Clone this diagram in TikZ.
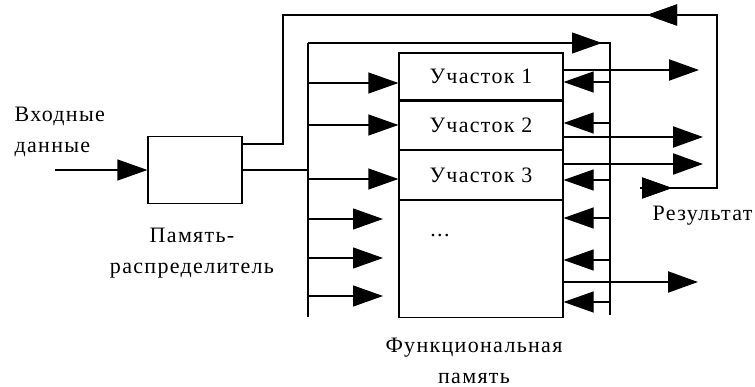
\documentclass[tikz,border=0pt]{standalone}
\usepackage{fontspec}
\setmainfont{Liberation Serif}[LetterSpace=6]
\usetikzlibrary{arrows.meta,decorations.markings}

\begin{document}
\begin{tikzpicture}[x = 1pt, y = -1pt, line width = 1.2pt,
  >={Triangle[length=30pt, width=21pt]},
  box/.style = {draw, rectangle, inner sep = 0pt},
  lbl/.style = {font = \fontsize{22}{31}\selectfont, inner sep = 0pt},
  thickout/.style = {line width = 2.2pt, ->},
  midarr/.style = {postaction = {decorate},
    decoration = {markings, mark = at position #1 with {\arrow{>}}}}]
\useasboundingbox (0,0) rectangle (755,387);
% distributor and memory
\node[box, minimum width = 94pt, minimum height = 67pt] (dist) at (195,170) {};
\node[box, lbl, minimum width = 164pt, minimum height = 47pt] (sec1) at (481,76.5) {Участок 1};
\node[box, lbl, minimum width = 164pt, minimum height = 48pt, anchor = north] (sec2) at (sec1.south) {Участок 2};
\node[box, lbl, minimum width = 164pt, minimum height = 49pt, anchor = north] (sec3) at (sec2.south) {Участок 3};
\node[box, minimum width = 164pt, minimum height = 117pt, anchor = north] (rest) at (sec3.south) {};
\node[lbl] (dots) at (440,236) {...};
% labels
\node[lbl, anchor = west, align = left] (inlbl) at (14,132) {Входные\\данные};
\node[lbl, align = center] (distlbl) at (192,253) {Память-\\распределитель};
\node[lbl, align = center] (memlbl) at (474,361) {Функциональная\\память};
\node[lbl, anchor = east] (reslbl) at (753,216) {Результат};
% buses
\coordinate (in) at (55,170);
\coordinate (btop) at (308,43);
\coordinate (bbot) at (308,317);
\coordinate (rtop) at (610,43);
\coordinate (rbot) at (610,315);
\coordinate (res) at (640,188);
\draw[->] (in) -- (dist.west);
\draw (btop) -- (bbot);
\draw (dist.east) -- (dist.east -| btop);
\draw[midarr = 294pt] (btop) -- (rtop) -- (rbot);
\draw[midarr = 32pt, midarr = 320pt] (res) -- (717,188) -- (717,15) -- (283,15) -- (283,144) -- (dist.east |- 0,144);
% inputs to the sections
\foreach \y in {83,125,179}
  \draw[->] (btop |- 0,\y) -- (rest.west |- 0,\y);
\foreach \y in {219,258,296}
  \draw[->] (btop |- 0,\y) -- (383,\y);
\foreach \y in {82,123,180,218,260,302}
  \draw[->] (rtop |- 0,\y) -- (rest.east |- 0,\y);
% results
\foreach \y/\e in {70/699,137/703,164/703,282/698}
  \draw[thickout] (rest.east |- 0,\y) -- (\e,\y);
\end{tikzpicture}
\end{document}
